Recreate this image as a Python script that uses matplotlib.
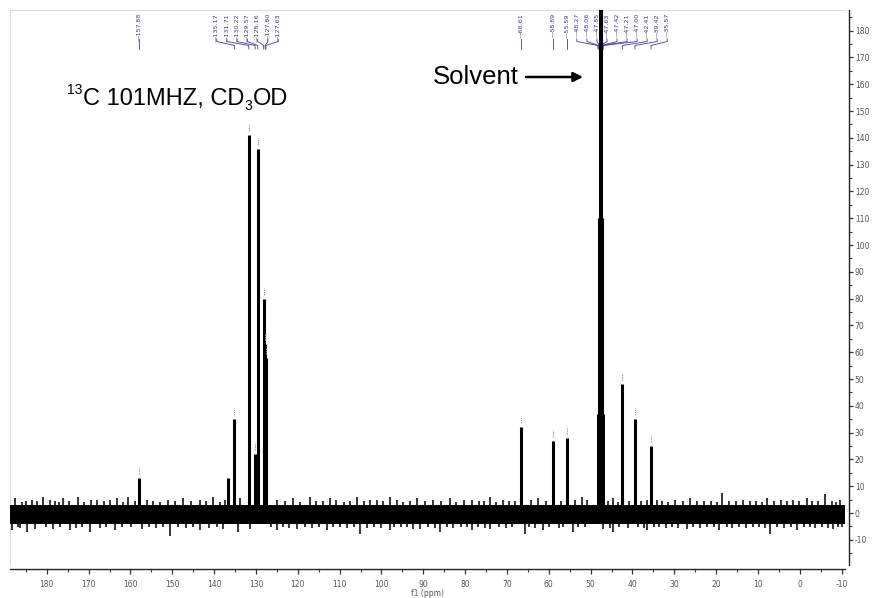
import matplotlib
matplotlib.use('Agg')
import matplotlib.pyplot as plt
import matplotlib.transforms as mtransforms
from matplotlib.ticker import MultipleLocator, FormatStrFormatter

plt.rcParams['axes.unicode_minus'] = False

# ---------------- data ----------------
peak_ppm = [157.88, 136.60, 135.17, 131.71, 130.22, 129.57, 128.16, 127.80, 127.63,
            66.61, 58.89, 55.59, 42.41, 39.42, 35.57]
peak_height = [13, 13, 35, 141, 22, 136, 80, 63, 58,
               32, 27, 28, 48, 35, 25]
peak_labelled = [True, False, True, True, True, True, True, True, True,
                 True, True, True, True, True, True]

solvent_ppm = [48.27, 48.06, 47.85, 47.63, 47.42, 47.21, 47.00]
solvent_height = [37, 110, 220, 257, 220, 110, 37]

single_labels = ["157.88", "66.61", "58.89", "55.59"]
group_a_labels = ["135.17", "131.71", "130.22", "129.57", "128.16", "127.80", "127.63"]
group_b_labels = ["48.27", "48.06", "47.85", "47.63", "47.42", "47.21", "47.00",
                  "42.41", "39.42", "35.57"]

# baseline noise band (core) and its visible spikes
band_hi = 3.0
band_lo = -4.0
noise_up_ppm = [187.6, 186.0, 185.0, 183.6, 182.3, 181.0, 179.3, 178.0, 177.1, 176.2,
                174.8, 172.6, 171.0, 169.5, 168.0, 166.4, 165.0, 163.3, 161.9, 160.6,
                158.9, 156.1, 154.7, 153.0, 151.1, 149.4, 147.5, 145.6, 143.4, 142.0,
                140.3, 138.5, 137.5, 133.9, 125.0, 123.0, 121.2, 119.4, 117.1, 115.6,
                114.0, 112.4, 110.8, 109.0, 107.5, 105.9, 104.1, 102.7, 101.1, 99.6,
                98.0, 96.3, 94.8, 93.2, 91.6, 89.6, 87.7, 85.8, 83.7, 82.1,
                80.3, 78.4, 76.8, 75.5, 74.1, 72.6, 71.0, 69.4, 68.0, 64.2,
                62.6, 60.7, 57.0, 53.7, 52.0, 50.9, 45.9, 44.7, 43.5, 40.8,
                37.9, 36.5, 34.2, 33.0, 31.4, 29.8, 28.0, 26.3, 24.6, 22.9,
                21.2, 19.9, 18.7, 16.9, 15.3, 13.7, 12.0, 10.4, 9.1, 7.9,
                6.2, 4.5, 3.0, 1.7, 0.3, -1.6, -3.0, -4.4, -6.0, -7.6, -8.7, -9.5]
noise_up_val = [5.5, 4.2, 4.6, 5.0, 4.3, 6.0, 5.0, 4.4, 4.1, 5.5,
                4.5, 6.0, 4.2, 4.7, 5.0, 4.3, 4.8, 5.5, 4.2, 6.0,
                4.5, 5.0, 4.4, 4.1, 5.0, 4.6, 5.5, 4.3, 5.0, 4.5,
                6.0, 4.2, 4.8, 5.5, 5.0, 4.4, 5.5, 4.2, 6.0, 4.6,
                4.3, 5.5, 4.8, 4.2, 4.5, 6.0, 4.4, 4.9, 5.0, 4.3,
                6.0, 4.7, 4.2, 4.5, 5.5, 4.4, 5.0, 4.6, 5.5, 4.2,
                4.8, 5.0, 4.3, 4.6, 6.0, 4.2, 5.0, 4.5, 4.4, 4.7,
                5.5, 4.3, 4.6, 5.0, 6.0, 5.0, 4.5, 5.5, 4.2, 4.6,
                4.3, 4.8, 5.0, 4.4, 4.2, 4.7, 4.5, 5.5, 4.3, 4.6,
                4.4, 4.2, 7.5, 4.5, 4.3, 5.0, 4.6, 4.4, 4.2, 5.5,
                4.3, 4.7, 4.4, 5.0, 4.5, 5.5, 4.3, 4.6, 7.0, 4.4, 4.2, 5.0]
noise_dn_ppm = [188.4, 187.0, 186.3, 184.8, 182.9, 180.2, 178.6, 176.9, 174.5, 173.0,
                171.5, 169.7, 167.2, 165.8, 163.7, 162.0, 159.8, 157.2, 155.5, 153.9,
                152.2, 150.6, 148.6, 146.8, 145.0, 143.4, 141.3, 139.4, 137.9, 134.4,
                131.5, 126.4, 125.0, 123.6, 122.0, 120.2, 118.3, 116.6, 115.0, 113.1,
                111.5, 109.8, 108.2, 106.6, 105.2, 103.4, 101.8, 100.2, 98.0, 96.9,
                95.4, 93.9, 92.4, 90.9, 89.0, 87.3, 86.1, 84.4, 82.8, 81.1,
                79.6, 78.4, 77.0, 75.2, 74.1, 72.0, 70.2, 68.7, 65.8, 64.8,
                63.3, 61.5, 60.0, 57.5, 56.6, 54.3, 53.0, 51.4, 47.1, 45.4,
                44.7, 43.3, 41.0, 38.6, 37.2, 36.6, 34.9, 33.6, 32.1, 30.6,
                29.1, 27.0, 25.5, 23.8, 22.2, 20.6, 19.2, 17.5, 16.1, 14.5,
                12.8, 11.2, 9.7, 8.4, 7.2, 5.4, 3.8, 2.2, 0.7, -0.9,
                -2.4, -3.7, -5.3, -6.8, -7.9, -9.1, -10.2]
noise_dn_val = [-6.5, -5.2, -5.6, -7.0, -6.0, -5.3, -5.8, -5.2, -6.5, -5.5,
                -5.2, -7.0, -5.6, -5.3, -6.5, -5.4, -5.2, -5.8, -5.3, -5.6,
                -5.2, -8.5, -5.4, -5.7, -5.3, -6.5, -5.5, -5.2, -5.8, -7.0,
                -6.0, -5.4, -6.5, -5.3, -5.6, -6.0, -5.2, -5.5, -5.3, -6.5,
                -5.4, -5.2, -5.7, -5.3, -8.0, -5.5, -5.2, -5.6, -6.5, -5.3,
                -5.4, -5.2, -5.8, -6.0, -5.3, -5.5, -7.0, -5.2, -5.6, -5.3,
                -5.4, -6.5, -5.2, -5.6, -6.0, -5.3, -5.5, -5.2, -8.0, -5.4,
                -5.6, -6.5, -5.3, -5.5, -5.2, -7.0, -5.4, -5.3, -6.0, -5.5,
                -7.0, -5.2, -5.6, -5.3, -5.5, -6.5, -5.2, -5.4, -5.7, -5.3,
                -5.5, -6.0, -5.2, -5.6, -5.3, -5.4, -6.5, -5.2, -5.5, -5.3,
                -5.6, -5.2, -5.4, -5.7, -8.0, -5.3, -5.5, -5.2, -6.5, -5.4,
                -5.3, -5.6, -5.2, -5.5, -6.0, -5.3, -5.4]

x_ticks = list(range(180, -11, -10))
y_ticks = list(range(-10, 181, 10))

# ---------------- figure ----------------
W, H = 872, 598
fig = plt.figure(figsize=(W / 100, H / 100), dpi=100)
ax = fig.add_axes([10 / W, 33 / H, 835 / W, 555 / H])
ax.set_xlim(188.8, -10.8)
ax.set_ylim(-19.4, 187.7)

ink = 'black'
ax.fill_between([188.8, -10.8], [band_lo, band_lo], [band_hi, band_hi], color=ink, lw=0, zorder=3)
ax.vlines(noise_up_ppm, 0, noise_up_val, color=ink, lw=1.1, zorder=3)
ax.vlines(noise_dn_ppm, noise_dn_val, 0, color=ink, lw=1.1, zorder=3)
ax.vlines(peak_ppm, 0, peak_height, color=ink, lw=2.2, zorder=4)
ax.vlines(solvent_ppm, 0, solvent_height, color=ink, lw=2.2, zorder=6)

# peak-pick marks above peaks
for p, h, lab in zip(peak_ppm, peak_height, peak_labelled):
    if lab:
        ax.plot([p, p], [h + 1.5, h + 4.0], color='#999999', lw=0.8,
                linestyle=(0, (1.2, 0.8)), zorder=4)

# spines and ticks
for s in ['left', 'top']:
    ax.spines[s].set_color('#dcdcdc')
    ax.spines[s].set_linewidth(0.8)
for s in ['right', 'bottom']:
    ax.spines[s].set_color('#222222')
    ax.spines[s].set_linewidth(1.0)
    ax.spines[s].set_position(('outward', 3))

ax.yaxis.tick_right()
ax.set_xticks(x_ticks)
ax.set_yticks(y_ticks)
ax.xaxis.set_minor_locator(MultipleLocator(5))
ax.yaxis.set_minor_locator(MultipleLocator(5))
ax.xaxis.set_major_formatter(FormatStrFormatter('%d'))
ax.yaxis.set_major_formatter(FormatStrFormatter('%d'))
ax.tick_params(axis='x', which='major', direction='out', length=3.5, width=0.9,
               color='#333333', labelsize=5.5, labelcolor='#555555', pad=4)
ax.tick_params(axis='x', which='minor', direction='out', length=2.5, width=0.8, color='#333333')
ax.tick_params(axis='y', which='major', direction='out', length=3, width=0.9,
               color='#333333', labelsize=5.5, labelcolor='#555555', pad=1)
ax.tick_params(axis='y', which='minor', direction='out', length=2, width=0.8, color='#333333')
ax.set_xlabel('f1 (ppm)', fontsize=5.5, color='#555555', labelpad=0)

# peak labels at top
trans = mtransforms.blended_transform_factory(ax.transData, fig.transFigure)
lab_col = '#3c3c8c'


def fy(py):
    return 1 - py / H


def label(lx, px, txt):
    ax.text(lx, fy(13), '\u2014' + txt, rotation=90, ha='center', va='top', fontsize=4.6,
            color=lab_col, transform=trans, zorder=2, clip_on=False)
    ax.plot([lx, lx, px, px], [fy(39), fy(41.5), fy(45.5), fy(49)], color=lab_col,
            lw=0.6, transform=trans, clip_on=False, zorder=2)


for txt in single_labels:
    v = float(txt)
    label(v, v, txt)

for i, txt in enumerate(group_a_labels):
    label(139.4 - 2.45 * i, float(txt), txt)

for i, txt in enumerate(group_b_labels):
    label(53.3 - 2.4 * i, float(txt), txt)

# annotations: 13C 101MHZ, CD3OD built from pieces (small super/subscripts)
renderer = fig.canvas.get_renderer()
big = 17.0
small = 10.0
fam = 'Liberation Sans'
x_px = 67
t = fig.text(x_px / W, fy(94), '13', fontsize=small, family=fam, va='baseline', ha='left')
x_px += t.get_window_extent(renderer).width + 1
t = fig.text(x_px / W, fy(105), 'C 101MHZ, CD', fontsize=big, family=fam, va='baseline', ha='left')
x_px += t.get_window_extent(renderer).width
t = fig.text(x_px / W, fy(110), '3', fontsize=small, family=fam, va='baseline', ha='left')
x_px += t.get_window_extent(renderer).width
fig.text(x_px / W, fy(105), 'OD', fontsize=big, family=fam, va='baseline', ha='left')

fig.text(433 / W, fy(77), 'Solvent', fontsize=18.5, family=fam, va='center', ha='left')
ax.annotate('', xy=(583 / W, fy(77)), xytext=(526 / W, fy(77)),
            xycoords='figure fraction', textcoords='figure fraction',
            arrowprops=dict(arrowstyle='-|>', color='black', lw=1.8, mutation_scale=14,
                            shrinkA=0, shrinkB=0))

fig.savefig('out.png', dpi=100)
